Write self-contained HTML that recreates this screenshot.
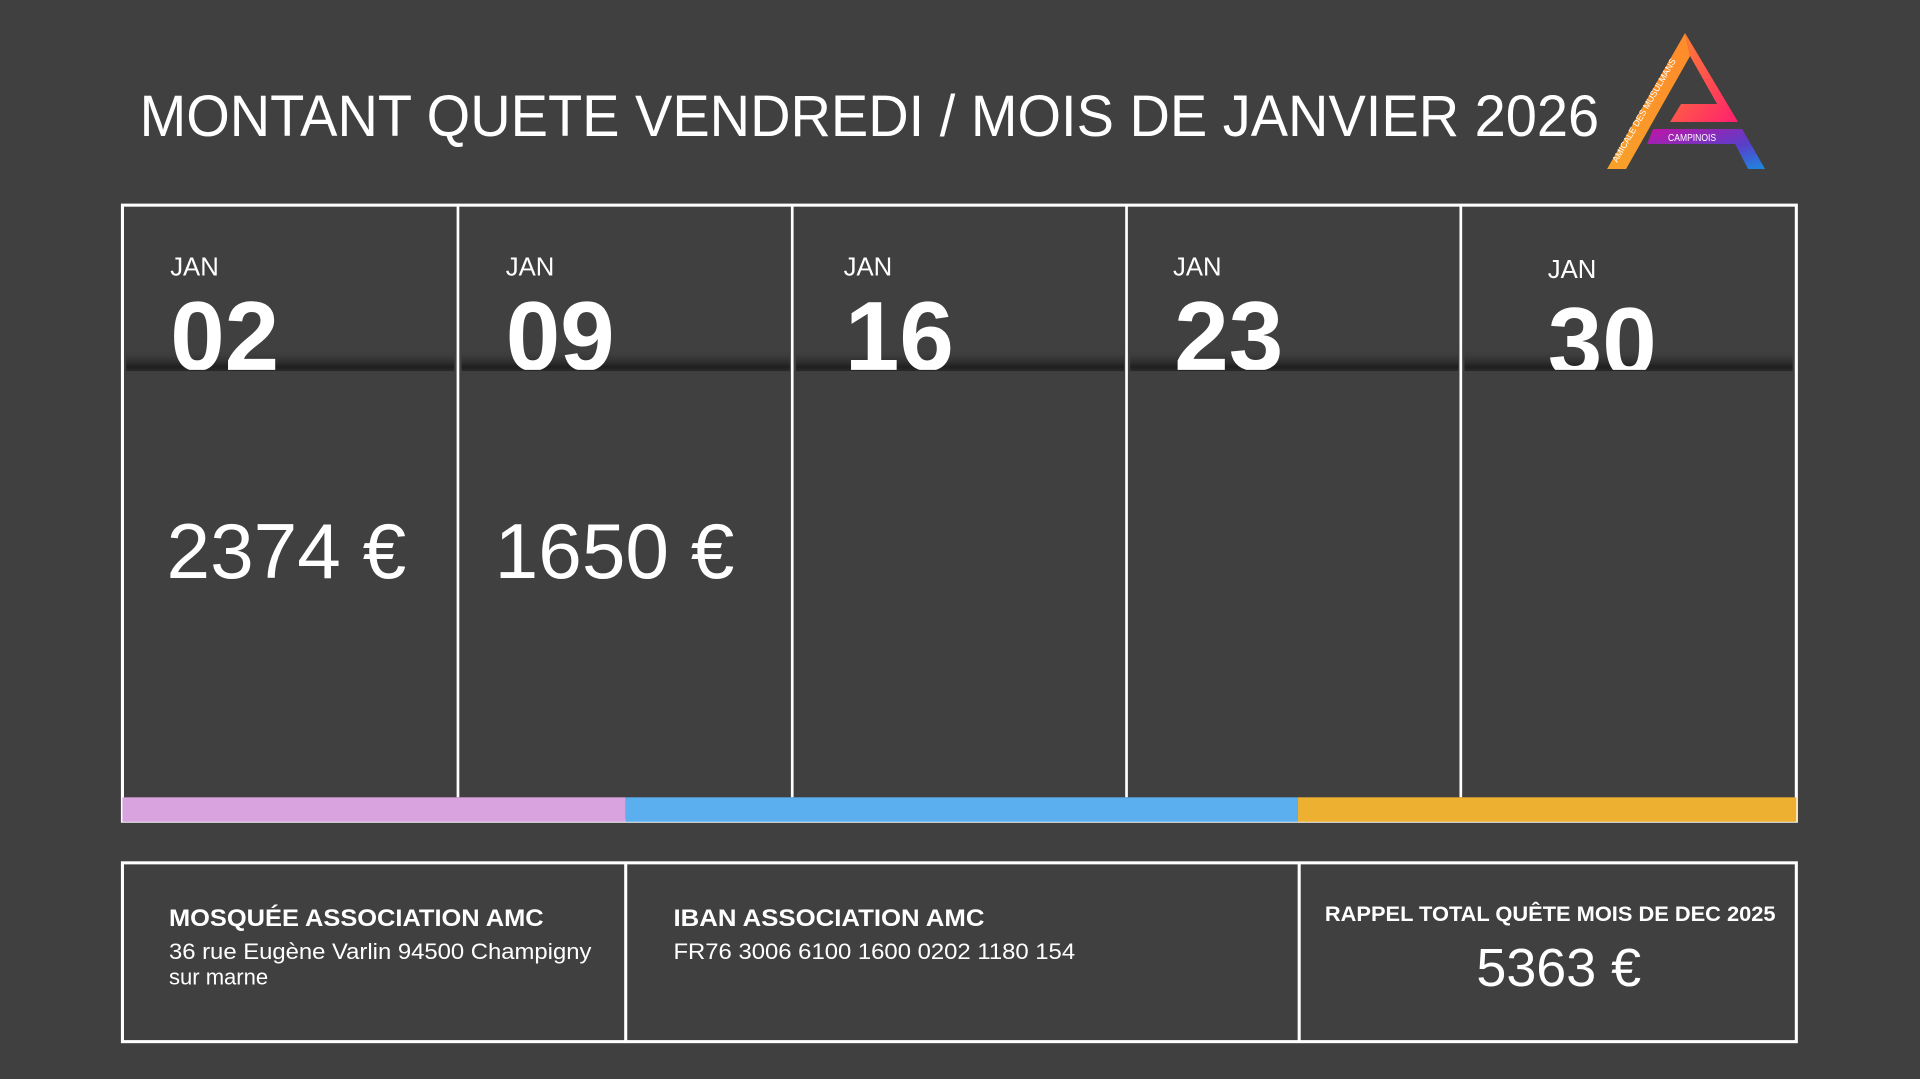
<!DOCTYPE html>
<html><head><meta charset="utf-8"><style>
html,body{margin:0;padding:0;background:#404040;}
svg{display:block;}
text{font-family:"Liberation Sans",sans-serif;fill:#fff;}
</style></head><body>
<svg width="1920" height="1079" viewBox="0 0 1568 881" preserveAspectRatio="none" xmlns="http://www.w3.org/2000/svg">
<defs>
<linearGradient id="sh" x1="0" y1="0" x2="0" y2="1">
<stop offset="0" stop-color="#404040" stop-opacity="0"/>
<stop offset="0.8" stop-color="#1f1f1f"/>
<stop offset="1" stop-color="#2a2a2a"/>
</linearGradient>
<linearGradient id="lg1" x1="0" y1="1" x2="1" y2="0">
<stop offset="0" stop-color="#f7a12a"/><stop offset="1" stop-color="#ff8a2a"/>
</linearGradient>
<linearGradient id="lg2" x1="0" y1="0" x2="1" y2="1">
<stop offset="0" stop-color="#ff8a2a"/><stop offset="1" stop-color="#ff1e6e"/>
</linearGradient>
<linearGradient id="lg3" x1="0" y1="0" x2="1" y2="1">
<stop offset="0" stop-color="#c214a6"/><stop offset="0.6" stop-color="#5a3ec8"/><stop offset="1" stop-color="#1a8ae0"/>
</linearGradient>
<clipPath id="c1"><rect x="100" y="160" width="1370" height="142"/></clipPath>
</defs>
<rect width="1568" height="881" fill="#404040"/>
<text x="114" y="111" font-size="48" textLength="1192" lengthAdjust="spacingAndGlyphs" style="font-weight:300">MONTANT QUETE VENDREDI / MOIS DE JANVIER 2026</text>

<g transform="scale(0.8167)">
<polygon points="1685,33 1607,169 1626,169 1690,56" fill="url(#lg1)"/>
<polygon points="1685,33 1738,122 1670,122 1681,104 1717,104 1690,56" fill="url(#lg2)"/>
<polygon points="1653,129 1742,129 1765,169 1748,169 1735,144 1647,144" fill="url(#lg3)"/>
<text x="1668" y="141" font-size="10" textLength="48" lengthAdjust="spacingAndGlyphs">CAMPINOIS</text>
<text transform="translate(1617,163) rotate(-60)" font-size="9" textLength="118" lengthAdjust="spacingAndGlyphs">AMICALE DES MUSULMANS</text>
</g>

<!-- shadow bands -->
<g>
<rect x="103" y="285" width="268" height="18" fill="url(#sh)"/>
<rect x="377" y="285" width="268" height="18" fill="url(#sh)"/>
<rect x="650" y="285" width="268" height="18" fill="url(#sh)"/>
<rect x="923" y="285" width="268" height="18" fill="url(#sh)"/>
<rect x="1196" y="285" width="268" height="18" fill="url(#sh)"/>
</g>
<!-- top grid -->
<rect x="100" y="167.5" width="1367" height="503" fill="none" stroke="#fff" stroke-width="2.5"/>
<g stroke="#fff" stroke-width="2.2">
<line x1="374" y1="168" x2="374" y2="651"/>
<line x1="647" y1="168" x2="647" y2="651"/>
<line x1="920" y1="168" x2="920" y2="651"/>
<line x1="1193" y1="168" x2="1193" y2="651"/>
</g>
<g font-size="21">
<text x="139" y="225">JAN</text>
<text x="413" y="225">JAN</text>
<text x="689" y="225">JAN</text>
<text x="958" y="225">JAN</text>
<text x="1264" y="227">JAN</text>
</g>
<g font-size="80" font-weight="bold" clip-path="url(#c1)">
<text x="139" y="302">02</text>
<text x="413" y="302">09</text>
<text x="690" y="302">16</text>
<text x="959" y="302">23</text>
<text x="1264" y="307">30</text>
</g>
<g font-size="64">
<text x="136" y="472">2374 €</text>
<text x="404" y="472">1650 €</text>
</g>
<rect x="100" y="651" width="411" height="20" fill="#d9a3df"/>
<rect x="511" y="651" width="549" height="20" fill="#5bafef"/>
<rect x="1060" y="651" width="407" height="20" fill="#eeb031"/>

<!-- bottom box -->
<rect x="100" y="704.5" width="1367" height="146" fill="none" stroke="#fff" stroke-width="2.5"/>
<line x1="511" y1="705" x2="511" y2="850" stroke="#fff" stroke-width="2.5"/>
<line x1="1061" y1="705" x2="1061" y2="850" stroke="#fff" stroke-width="2.5"/>
<text x="138" y="756" font-size="20" font-weight="bold" textLength="306" lengthAdjust="spacingAndGlyphs">MOSQUÉE ASSOCIATION AMC</text>
<text x="138" y="783" font-size="18" textLength="345" lengthAdjust="spacingAndGlyphs">36 rue Eugène Varlin 94500 Champigny</text>
<text x="138" y="804" font-size="18">sur marne</text>
<text x="550" y="756" font-size="20" font-weight="bold" textLength="254" lengthAdjust="spacingAndGlyphs">IBAN ASSOCIATION AMC</text>
<text x="550" y="783" font-size="18" textLength="328" lengthAdjust="spacingAndGlyphs">FR76 3006 6100 1600 0202 1180 154</text>
<text x="1082" y="752" font-size="17" font-weight="bold" textLength="368" lengthAdjust="spacingAndGlyphs">RAPPEL TOTAL QUÊTE MOIS DE DEC 2025</text>
<text x="1273" y="805" font-size="44" text-anchor="middle">5363 €</text>
</svg>
</body></html>
